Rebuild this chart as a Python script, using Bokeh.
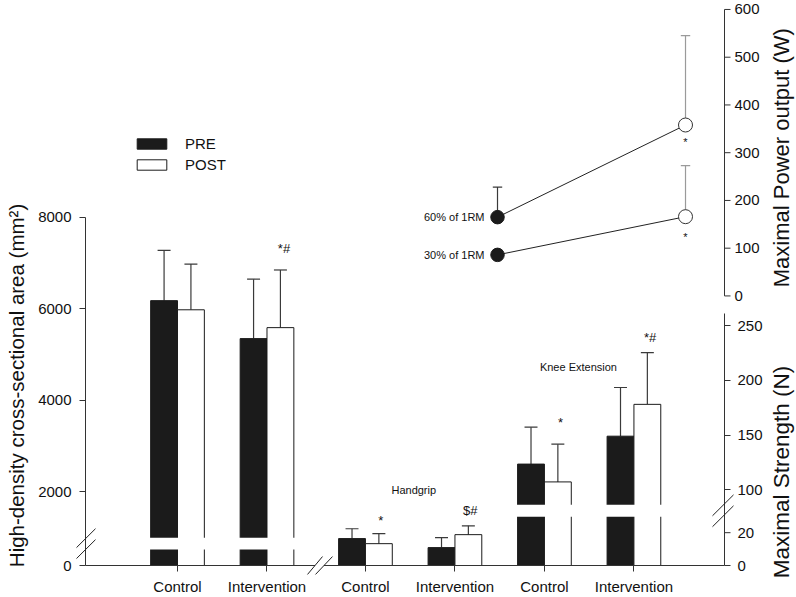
import math
from bokeh.plotting import figure
from bokeh.models import (Range1d, LinearAxis, FixedTicker, Legend, LegendItem,
                          CustomJSTickFormatter)
from bokeh.embed import file_html
from bokeh.resources import INLINE
from bokeh.core.properties import value

# ---------------- data ----------------
groups = ["Control", "Intervention", "Control", "Intervention", "Control", "Intervention"]

csa_pre = [6180, 5350]
csa_pre_sd = [1100, 1300]
csa_post = [5980, 5590]
csa_post_sd = [1000, 1260]

grip_pre = [16.4, 10.9]
grip_pre_sd = [6.0, 6.1]
grip_post = [13.3, 18.8]
grip_post_sd = [6.1, 5.4]

knee_pre = [123.6, 149.1]
knee_pre_sd = [33.7, 44.5]
knee_post = [107.3, 178.2]
knee_post_sd = [34.5, 47.3]

power_labels = ["60% of 1RM", "30% of 1RM"]
power_pre = [165, 86]
power_pre_sd = [63, 10]
power_post = [358, 166]
power_post_sd = [187, 107]

csa_ticks_hi = [2000, 4000, 6000, 8000]
csa_ticks_lo = [0]
str_ticks_hi = [100, 150, 200, 250]
str_ticks_lo = [0, 20]
power_ticks = [0, 100, 200, 300, 400, 500, 600]

sig_csa = ["", "*#"]
sig_grip = ["*", "$#"]
sig_knee = ["*", "*#"]
sig_power = ["*", "*"]

# ---------------- layout / style ----------------
W, H = 796, 597
FONT = "Liberation Sans"
INK = "#111111"
AX = "#333333"
PRE_FILL = "#1b1b1b"
EDGE = "#1b1b1b"
ERR = "#3a3a3a"
ERR_LIGHT = "#9a9a9a"
BW = 0.30
CAP = 0.145
PCAP = 0.05
TICK_FS = "15px"

x_pos = [i + 1 + (0.1 if i >= 2 else 0.0) for i in range(len(groups))]
X0, X1 = -0.028, 7.112
CSA_Y0 = 391.3

p = figure(width=W, height=H, output_backend="svg", toolbar_location=None,
           x_range=Range1d(X0, X1), y_range=Range1d(CSA_Y0, 12630.4),
           x_axis_type=None, y_axis_type=None,
           min_border_left=85, min_border_right=72, min_border_top=5,
           min_border_bottom=29)
p.outline_line_color = None
p.background_fill_color = "white"
p.border_fill_color = "white"

p.extra_y_ranges = {
    "csa_lo": Range1d(0, 17593.75),
    "str_hi": Range1d(30.91, 542.73),
    "str_lo": Range1d(0, 341.21),
    "power": Range1d(-564.6, 608.3),
    "py": Range1d(568, 5),
}
# "px"/"py" reproduce the reference's pixel frame (used for decorations only)
p.extra_x_ranges = {
    "pw_x": Range1d(-2.1915, 1.2074),
    "px": Range1d(85, 724),
}


def errbars(xs, m, sd, yr, color=ERR, cap=CAP, xr="default"):
    tops = [a + b for a, b in zip(m, sd)]
    p.segment(x0=xs, y0=m, x1=xs, y1=tops, line_color=color, line_width=1.2,
              x_range_name=xr, y_range_name=yr)
    p.segment(x0=[x - cap / 2 for x in xs], y0=tops, x1=[x + cap / 2 for x in xs],
              y1=tops, line_color=color, line_width=1.2, x_range_name=xr, y_range_name=yr)


def broken_bars(xc, pre, pre_sd, post, post_sd, yr_hi, yr_lo, cut_hi, cut_lo, gap):
    xp = [x - BW / 2 for x in xc]
    xq = [x + BW / 2 for x in xc]
    errbars(xp, pre, pre_sd, yr_hi)
    errbars(xq, post, post_sd, yr_hi)
    r1 = p.vbar(x=xp, width=BW, bottom=cut_hi, top=pre, fill_color=PRE_FILL,
                line_color=EDGE, line_width=1, y_range_name=yr_hi)
    r2 = p.vbar(x=xq, width=BW, bottom=cut_hi, top=post, fill_color="white",
                line_color=EDGE, line_width=1, y_range_name=yr_hi)
    p.vbar(x=xp, width=BW, bottom=0, top=cut_lo, fill_color=PRE_FILL,
           line_color=EDGE, line_width=1, y_range_name=yr_lo)
    p.vbar(x=xq, width=BW, bottom=0, top=cut_lo, fill_color="white",
           line_color=EDGE, line_width=1, y_range_name=yr_lo)
    # white break band across the bars
    p.vbar(x=xc, width=2 * BW + 0.05, bottom=gap[1], top=gap[0], fill_color="white",
           line_color=None, y_range_name="py")
    return r1, r2


# ---- cross-sectional area (left axis) ----
r_pre, r_post = broken_bars(x_pos[0:2], csa_pre, csa_pre_sd, csa_post, csa_post_sd,
                            "default", "csa_lo", 869.6, 687.5, (540, 552))

# ---- handgrip (lower strength segment) ----
gx = x_pos[2:4]
gxp = [x - BW / 2 for x in gx]
gxq = [x + BW / 2 for x in gx]
errbars(gxp, grip_pre, grip_pre_sd, "str_lo")
errbars(gxq, grip_post, grip_post_sd, "str_lo")
p.vbar(x=gxp, width=BW, bottom=0, top=grip_pre, fill_color=PRE_FILL, line_color=EDGE,
       y_range_name="str_lo")
p.vbar(x=gxq, width=BW, bottom=0, top=grip_post, fill_color="white", line_color=EDGE,
       y_range_name="str_lo")

# ---- knee extension (broken strength axis) ----
broken_bars(x_pos[4:6], knee_pre, knee_pre_sd, knee_post, knee_post_sd,
            "str_hi", "str_lo", 80.91, 33.33, (507, 519))


# ---- significance marks ----
def sig(xs, tops, texts, yr, offs, dx=0.0):
    p.text(x=[x + BW / 2 + dx for x in xs], y=tops, text=texts, y_offset=offs,
           text_align="center", text_baseline="middle", text_font=value(FONT),
           text_font_size="13px", text_color=INK, y_range_name=yr)


sig(x_pos[0:2], [a + b for a, b in zip(csa_post, csa_post_sd)], sig_csa, "default",
    [-21, -21], 0.04)
sig(gx, [a + b for a, b in zip(grip_post, grip_post_sd)], sig_grip, "str_lo",
    [-13, -15], 0.02)
sig(x_pos[4:6], [a + b for a, b in zip(knee_post, knee_post_sd)], sig_knee, "str_hi",
    [-22, -15], 0.03)

# group labels
p.text(x=[(gx[0] + gx[1]) / 2 + 0.04], y=[46], text=["Handgrip"], y_range_name="str_lo",
       text_align="center", text_baseline="middle", text_font=value(FONT),
       text_font_size="11px", text_color=INK)
p.text(x=[(x_pos[4] + x_pos[5]) / 2 - 0.12], y=[212.7], text=["Knee Extension"],
       y_range_name="str_hi", text_align="center", text_baseline="middle",
       text_font=value(FONT), text_font_size="11px", text_color=INK)

# ---- power output (inset, upper right axis) ----
PRE_X, POST_X = 0, 1
for i in range(len(power_labels)):
    p.line(x=[PRE_X, POST_X], y=[power_pre[i], power_post[i]], line_color="#222",
           line_width=1, x_range_name="pw_x", y_range_name="power")
errbars([PRE_X] * 2, power_pre, power_pre_sd, "power", ERR, PCAP, "pw_x")
errbars([POST_X] * 2, power_post, power_post_sd, "power", ERR_LIGHT, PCAP, "pw_x")
p.scatter(x=[PRE_X] * 2, y=power_pre, size=13.5, fill_color=PRE_FILL, line_color=EDGE,
          x_range_name="pw_x", y_range_name="power")
p.scatter(x=[POST_X] * 2, y=power_post, size=14, fill_color="white", line_color="#333",
          line_width=1, x_range_name="pw_x", y_range_name="power")
p.text(x=[PRE_X] * 2, y=power_pre, text=power_labels, x_offset=-13,
       text_align="right", text_baseline="middle", text_font=value(FONT),
       text_font_size="11px", text_color=INK, x_range_name="pw_x",
       y_range_name="power")
p.text(x=[POST_X] * 2, y=power_post, text=sig_power, y_offset=[17, 20],
       text_align="center", text_baseline="middle", text_font=value(FONT),
       text_font_size="11px", text_color=INK, x_range_name="pw_x",
       y_range_name="power")


# ---------------- real axes (one per side) ----------------
def style(ax, standoff):
    ax.major_tick_in = 0
    ax.major_tick_out = 6
    ax.minor_tick_line_color = None
    ax.axis_line_color = AX
    ax.major_tick_line_color = AX
    ax.major_label_text_font = FONT
    ax.major_label_text_font_size = TICK_FS
    ax.major_label_text_color = INK
    ax.major_label_standoff = standoff


ax_l = LinearAxis(ticker=FixedTicker(ticks=csa_ticks_hi), bounds=(CSA_Y0, 8000))
style(ax_l, 8)
p.add_layout(ax_l, "left")

ax_r = LinearAxis(y_range_name="str_hi", ticker=FixedTicker(ticks=str_ticks_hi),
                  bounds=(30.91, 260.9))
style(ax_r, 7)
p.add_layout(ax_r, "right")

ax_b = LinearAxis(ticker=FixedTicker(ticks=x_pos),
                  formatter=CustomJSTickFormatter(args=dict(labels=groups),
                                                  code="return labels[index];"))
style(ax_b, 6)
p.add_layout(ax_b, "below")


# ---------------- secondary axis segments (drawn through their own scales) ----------------
def side_ticks(ticks, yr, x_axis, direction, label_gap):
    # x positions are in the reference pixel frame ("px"); y through the data range
    p.segment(x0=[x_axis] * len(ticks), y0=ticks, x1=[x_axis + 6 * direction] * len(ticks),
              y1=ticks, line_color=AX, line_width=1, x_range_name="px", y_range_name=yr,
              level="overlay")
    p.text(x=[x_axis + (6 + label_gap) * direction] * len(ticks), y=ticks,
           text=[str(t) for t in ticks], text_align="left" if direction > 0 else "right",
           text_baseline="middle", text_font=value(FONT), text_font_size=TICK_FS,
           text_color=INK, x_range_name="px", y_range_name=yr, level="overlay")


side_ticks(csa_ticks_lo, "csa_lo", 85, -1, 8)
side_ticks(str_ticks_lo, "str_lo", 724, 1, 7)
side_ticks(power_ticks, "power", 724, 1, 4)
# power axis line
p.segment(x0=[724], y0=[power_ticks[0]], x1=[724], y1=[power_ticks[-1]], line_color=AX,
          line_width=1, x_range_name="px", y_range_name="power", level="overlay")

# axis titles
p.text(x=[16, 781, 781], y=[387, 158, 474],
       text=["High-density cross-sectional area (mm²)", "Maximal Power output (W)",
             "Maximal Strength (N)"],
       angle=math.pi / 2, text_align="center", text_baseline="middle",
       text_font=value(FONT), text_font_size=["20.5px", "22px", "22.5px"],
       text_color=INK, x_range_name="px", y_range_name="py", level="overlay")

# ---------------- axis-break marks (reference pixel frame) ----------------
p.segment(x0=[314.5], y0=[568], x1=[323.5], y1=[568], line_color="white", line_width=3,
          x_range_name="px", y_range_name="py", level="overlay")
p.segment(x0=[76, 76, 712, 712, 307, 315], y0=[550, 561, 518, 529, 577, 577],
          x1=[95, 95, 733, 733, 322, 332], y1=[531, 542, 497, 508, 559, 559],
          line_color="#222", line_width=1, x_range_name="px", y_range_name="py",
          level="overlay")

# ---------------- legend ----------------
legend = Legend(items=[LegendItem(label="PRE", renderers=[r_pre]),
                       LegendItem(label="POST", renderers=[r_post])],
                location=(48, 392), orientation="vertical",
                border_line_color=None, background_fill_alpha=0, padding=0, margin=0,
                spacing=4, glyph_width=37, glyph_height=13, label_height=13,
                label_standoff=15, label_text_font=FONT, label_text_font_size="15px",
                label_text_color=INK)
p.add_layout(legend)

open("out.html", "w").write(file_html(p, INLINE))
